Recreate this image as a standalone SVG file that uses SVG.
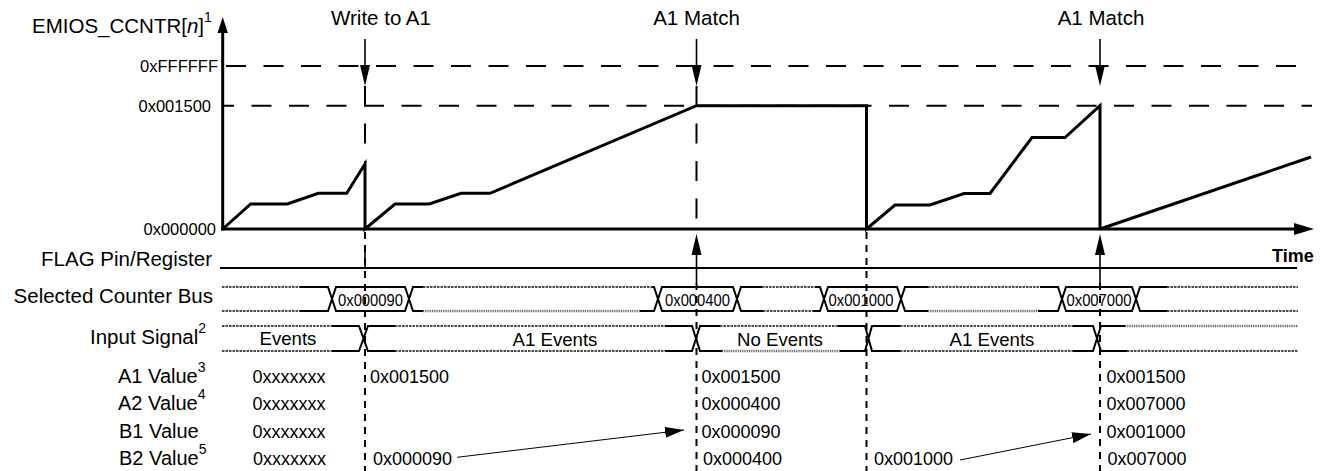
<svg xmlns="http://www.w3.org/2000/svg" width="1328" height="471" viewBox="0 0 1328 471">
<style>
.t{font-family:"Liberation Sans",Arial,Helvetica,sans-serif;fill:#000}
.lab{font-size:20.5px}
.row{font-size:20px}
.val{font-size:18px}
.ax{font-size:16.5px}
.ev{font-size:18.6px}
.cell{font-size:17px}
.time{font-size:18px;font-weight:bold}
.sup{font-size:14px}
.thick{stroke:#000;stroke-width:3;fill:none;stroke-linejoin:miter}
.hd{stroke:#000;stroke-width:2;stroke-dasharray:20 17.5;fill:none}
.vd{stroke:#000;stroke-width:2;stroke-dasharray:20 17.5;fill:none}
.vs{stroke:#000;stroke-width:2;stroke-dasharray:7 6;fill:none}
.ln{stroke:#000;stroke-width:1.6;fill:none}
.sig{stroke:#000;stroke-width:2;fill:none}
.dot{stroke:#111;stroke-width:1.3;stroke-dasharray:2.5 1;fill:none}
.hdot{stroke:#666;stroke-width:2.5;stroke-dasharray:1 0.8;fill:none}
.thin{stroke:#000;stroke-width:1;fill:none}
</style>
<defs>
<marker id="ah" markerUnits="userSpaceOnUse" markerWidth="20" markerHeight="11" refX="19" refY="5.5" orient="auto">
<path d="M0,0 L19,5.5 L0,11 Z" fill="#000"/>
</marker>
</defs>

<g id="guides">
<line class="hd" x1="222" y1="66" x2="1312" y2="66" stroke-dashoffset="-4"/>
<line class="hd" x1="222" y1="105.7" x2="1312" y2="105.7" stroke-dashoffset="8"/>
<line class="vd" x1="365" y1="86" x2="365" y2="164"/>
<line class="vd" x1="696.5" y1="86" x2="696.5" y2="229"/>
<line class="vs" x1="365" y1="232" x2="365" y2="471"/>
<line class="vs" x1="696.5" y1="283" x2="696.5" y2="471"/>
<line class="vs" x1="866.5" y1="232" x2="866.5" y2="471"/>
<line class="vs" x1="1100" y1="283" x2="1100" y2="471"/>
<line class="ln" x1="365" y1="247" x2="365" y2="268"/>
</g>

<g id="axes">
<line class="thick" x1="222.7" y1="230.5" x2="222.7" y2="31"/>
<polygon points="217.5,33 227.9,33 222.7,17" fill="#000"/>
<line class="thick" x1="221" y1="229" x2="1296" y2="229"/>
<polygon points="1294,223 1294,235 1314,229" fill="#000"/>
</g>

<g id="counter">
<path class="thick" d="M222.7,229 L250.7,204 L287.3,204 L318.3,193.3 L346.7,193.3 L365,164 L365,229 L395,204 L429.3,204 L461,193.3 L490,193.3 L696.5,105.7 L866.5,105.7 L866.5,229 L895,205 L930,205 L964,193.5 L990,193.5 L1032,137.5 L1065,137.5 L1100,105.7 L1100,229"/>
<path class="thick" d="M1100,229 L1311,157"/>
</g>

<g id="y-labels">
<text class="t ax" x="218" y="72" text-anchor="end">0xFFFFFF</text>
<text class="t ax" x="211" y="111.5" text-anchor="end">0x001500</text>
<text class="t ax" x="216" y="235" text-anchor="end">0x000000</text>
<text class="t lab" x="32" y="33">EMIOS_CCNTR[<tspan font-style="italic">n</tspan>]<tspan class="sup" dy="-11">1</tspan></text>
<text class="t time" x="1272" y="262">Time</text>
</g>

<g id="event-write">
<text class="t lab" x="381" y="25" text-anchor="middle">Write to A1</text>
<line class="ln" x1="365" y1="39" x2="365" y2="68"/>
<polygon points="360,65 370,65 365,86" fill="#000"/>
</g>
<g id="event-match1">
<text class="t lab" x="696.5" y="25" text-anchor="middle">A1 Match</text>
<line class="ln" x1="696.5" y1="39" x2="696.5" y2="68"/>
<polygon points="691.5,65 701.5,65 696.5,86" fill="#000"/>
<line class="ln" x1="696.5" y1="252" x2="696.5" y2="283"/>
<polygon points="691.5,255 701.5,255 696.5,234" fill="#000"/>
</g>
<g id="event-match2">
<text class="t lab" x="1101" y="25" text-anchor="middle">A1 Match</text>
<line class="ln" x1="1100" y1="39" x2="1100" y2="68"/>
<polygon points="1095,65 1105,65 1100,86" fill="#000"/>
<line class="ln" x1="1100" y1="252" x2="1100" y2="283"/>
<polygon points="1095,255 1105,255 1100,234" fill="#000"/>
</g>

<g id="row-flag">
<text class="t lab" x="212" y="266" text-anchor="end">FLAG Pin/Register</text>
<line class="sig" x1="220" y1="268" x2="1297" y2="268"/>
</g>

<g id="row-bus">
<text class="t lab" x="213" y="303" text-anchor="end">Selected Counter Bus</text>
<path class="dot" d="M222,287 L300,287 M222,311 L300,311 M423,287 L652,287 M762,287 L815,287 M763,311 L813,311 M928,287 L1040,287 M1167,287 L1298,287 M1167,311 L1298,311"/>
<path class="hdot" d="M423,311 L640,311 M928,311 L1038,311"/>
<path class="sig" d="M300,287 L328,287 L336,311 L405,311 L413,287 L423,287 M300,311 L328,311 L336,287 L405,287 L413,311 L423,311"/>
<path class="sig" d="M652,287 L654,287 L662,311 L733,311 L741,287 L762,287 M640,311 L654,311 L662,287 L733,287 L741,311 L763,311"/>
<path class="sig" d="M815,287 L820,287 L828,311 L897,311 L905,287 L928,287 M813,311 L820,311 L828,287 L897,287 L905,311 L928,311"/>
<path class="sig" d="M1040,287 L1058,287 L1066,311 L1132,311 L1140,287 L1167,287 M1038,311 L1058,311 L1066,287 L1132,287 L1140,311 L1167,311"/>
<text class="t cell" x="370.5" y="306" text-anchor="middle" textLength="65" lengthAdjust="spacingAndGlyphs">0x000090</text>
<text class="t cell" x="697.5" y="306" text-anchor="middle" textLength="65" lengthAdjust="spacingAndGlyphs">0x000400</text>
<text class="t cell" x="861" y="306" text-anchor="middle" textLength="65" lengthAdjust="spacingAndGlyphs">0x001000</text>
<text class="t cell" x="1099" y="306" text-anchor="middle" textLength="65" lengthAdjust="spacingAndGlyphs">0x007000</text>
</g>

<g id="row-input">
<text class="t lab" x="90" y="343.5">Input Signal<tspan class="sup" dy="-11">2</tspan></text>
<path class="dot" d="M222,326 L332,326 M222,351 L332,351 M395,326 L665,326 M395,351 L665,351 M720,326 L838,326 M900,326 L1073,326 M900,351 L1073,351 M1127,351 L1298,351"/>
<path class="hdot" d="M722,351 L840,351 M1125,326 L1298,326"/>
<path class="sig" d="M332,326 L359,326 L368,351 L395,351 M332,351 L359,351 L368,326 L395,326 M665,326 L692,326 L700,351 L722,351 M665,351 L692,351 L700,326 L720,326 M838,326 L865,326 L872,351 L900,351 M840,351 L865,351 L872,326 L900,326 M1073,326 L1093,326 L1101,351 L1127,351 M1073,351 L1093,351 L1101,326 L1125,326"/>
<text class="t ev" x="288" y="345" text-anchor="middle">Events</text>
<text class="t ev" x="555" y="346" text-anchor="middle">A1 Events</text>
<text class="t ev" x="780" y="346" text-anchor="middle">No Events</text>
<text class="t ev" x="992" y="346" text-anchor="middle">A1 Events</text>
</g>

<g id="row-a1">
<text class="t row" x="118" y="383">A1 Value<tspan class="sup" dy="-11">3</tspan></text>
<text class="t val" x="252.5" y="383">0xxxxxxx</text>
<text class="t val" x="370" y="383">0x001500</text>
<text class="t val" x="701.5" y="383">0x001500</text>
<text class="t val" x="1106.5" y="383">0x001500</text>
</g>
<g id="row-a2">
<text class="t row" x="118" y="410">A2 Value<tspan class="sup" dy="-11">4</tspan></text>
<text class="t val" x="252.5" y="410">0xxxxxxx</text>
<text class="t val" x="701.5" y="410">0x000400</text>
<text class="t val" x="1106.5" y="410">0x007000</text>
</g>
<g id="row-b1">
<text class="t row" x="119" y="437.5">B1 Value</text>
<text class="t val" x="252.5" y="437.5">0xxxxxxx</text>
<text class="t val" x="701.5" y="437.5">0x000090</text>
<text class="t val" x="1106.5" y="437.5">0x001000</text>
</g>
<g id="row-b2">
<text class="t row" x="119" y="464.5">B2 Value<tspan class="sup" dy="-11">5</tspan></text>
<text class="t val" x="253" y="464.5">0xxxxxxx</text>
<text class="t val" x="373" y="464.5">0x000090</text>
<text class="t val" x="703" y="464.5">0x000400</text>
<text class="t val" x="874" y="464.5">0x001000</text>
<text class="t val" x="1107.5" y="464.5">0x007000</text>
</g>

<g id="connectors">
<line class="thin" x1="457" y1="457.3" x2="684" y2="430" marker-end="url(#ah)"/>
<line class="thin" x1="960" y1="460" x2="1091" y2="434" marker-end="url(#ah)"/>
</g>
</svg>
